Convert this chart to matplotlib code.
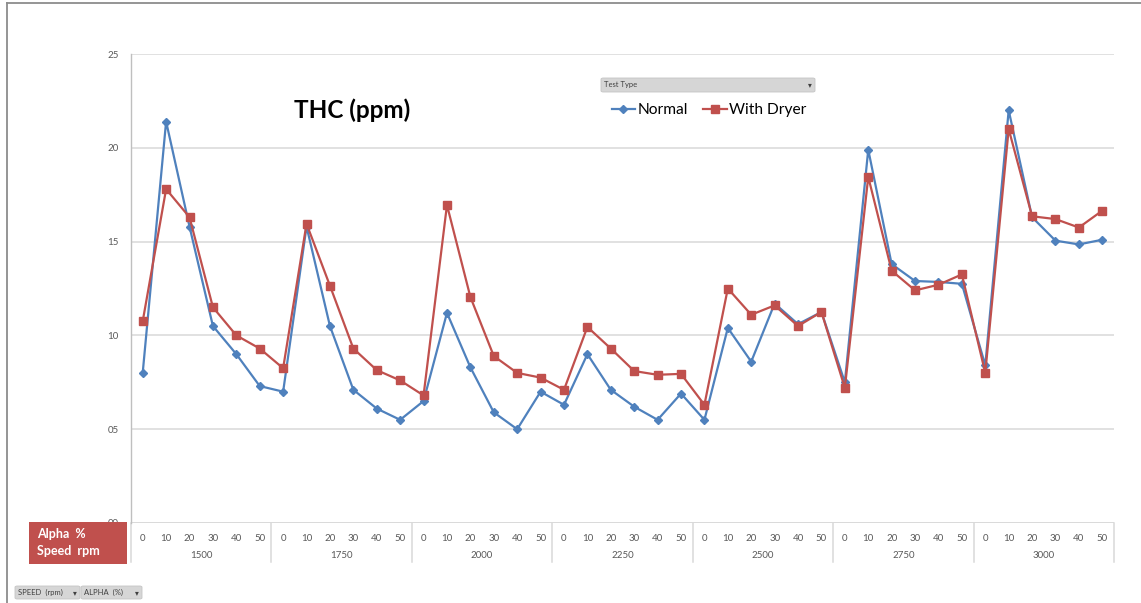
import matplotlib
matplotlib.use("Agg")
import matplotlib.pyplot as plt
from matplotlib.patches import Rectangle, FancyBboxPatch
from matplotlib.lines import Line2D
import matplotlib.transforms as mtransforms

# ---- data -------------------------------------------------------------
speeds = ["1500", "1750", "2000", "2250", "2500", "2750", "3000"]
alphas = ["0", "10", "20", "30", "40", "50"]

normal = [
    8.0, 21.4, 15.8, 10.5, 9.0, 7.3,      # 1500
    7.0, 15.8, 10.5, 7.1, 6.1, 5.5,       # 1750
    6.5, 11.2, 8.3, 5.9, 5.0, 7.0,        # 2000
    6.3, 9.0, 7.1, 6.2, 5.5, 6.9,         # 2250
    5.5, 10.4, 8.6, 11.7, 10.6, 11.25,    # 2500
    7.5, 19.9, 13.8, 12.9, 12.85, 12.75,  # 2750
    8.4, 22.0, 16.3, 15.05, 14.85, 15.1,  # 3000
]
with_dryer = [
    10.75, 17.8, 16.3, 11.5, 10.0, 9.3,
    8.25, 15.95, 12.65, 9.3, 8.15, 7.6,
    6.8, 16.95, 12.05, 8.9, 8.0, 7.75,
    7.1, 10.45, 9.3, 8.1, 7.9, 7.95,
    6.3, 12.5, 11.1, 11.6, 10.5, 11.25,
    7.2, 18.45, 13.45, 12.4, 12.7, 13.25,
    8.0, 21.0, 16.35, 16.2, 15.75, 16.65,
]
y_ticks = [0, 5, 10, 15, 20, 25]

BLUE = "#4f81bd"
RED = "#c0504d"
GRID = "#d9d9d9"
TXT = "#595959"
FONT = ["Lato", "DejaVu Sans"]

W, H = 1141, 603
fig = plt.figure(figsize=(W / 100, H / 100), dpi=100)
fig.patch.set_facecolor("white")


def fx(px):
    return px / W


def fy(py):
    return 1 - py / H


# plot area
ax_l, ax_r, ax_t, ax_b = 131, 1114, 54, 523
ax = fig.add_axes([fx(ax_l), fy(ax_b), fx(ax_r - ax_l), (ax_b - ax_t) / H])
n = len(speeds) * len(alphas)
x = list(range(n))

ax.plot(x, normal, color=BLUE, lw=1.6, marker="D", ms=4.3, mec=BLUE, mfc=BLUE,
        label="Normal", zorder=3)
ax.plot(x, with_dryer, color=RED, lw=1.6, marker="s", ms=6.3, mec=RED, mfc=RED,
        label="With Dryer", zorder=3)

ax.set_xlim(-0.5, n - 0.5)
ax.set_ylim(0, 25)
ax.set_yticks(y_ticks)
ax.set_yticklabels([f"{v:02d}" for v in y_ticks], fontsize=7, color=TXT,
                   family=FONT)
ax.tick_params(axis="y", length=0, pad=9)
ax.yaxis.grid(True, color=GRID, lw=1.1)
ax.set_axisbelow(True)
for s in ["top", "right", "bottom"]:
    ax.spines[s].set_visible(False)
ax.spines["left"].set_color("#bfbfbf")
ax.spines["left"].set_linewidth(1.0)

# two-level category axis
ax.set_xticks(x)
ax.set_xticklabels(alphas * len(speeds), fontsize=7, color=TXT, family=FONT)
ax.tick_params(axis="x", length=0, pad=8)
ax_h = ax_b - ax_t
trans = mtransforms.blended_transform_factory(ax.transData, ax.transAxes)
ax.axhline(0, color=GRID, lw=1.2, zorder=1)
sep_bottom = -(562 - ax_b) / ax_h
for g in range(len(speeds) + 1):
    xb = g * len(alphas) - 0.5
    ax.add_line(Line2D([xb, xb], [0, sep_bottom], transform=trans,
                       color=GRID, lw=1.1, clip_on=False))
for g, sp in enumerate(speeds):
    xc = g * len(alphas) + (len(alphas) - 1) / 2
    ax.text(xc, -(555 - ax_b) / ax_h, sp, transform=trans, ha="center",
            va="center", fontsize=7, color=TXT, family=FONT)

# title
fig.text(fx(352), fy(110), "THC (ppm)", ha="center", va="center",
         fontsize=17.5, fontweight="bold", color="black", family=FONT)

# legend
fig.legend(loc="center", bbox_to_anchor=(fx(709), fy(110)), ncol=2,
           frameon=False, prop={"family": FONT, "size": 11.2},
           handlelength=1.5, handletextpad=0.15, columnspacing=1.0)

# field buttons
def button(x0, y0, x1, y1, label, size):
    fig.patches.append(FancyBboxPatch(
        (fx(x0), fy(y1)), fx(x1 - x0), (y1 - y0) / H,
        boxstyle="round,pad=0,rounding_size=0.002", transform=fig.transFigure,
        facecolor="#d6d6d6", edgecolor="#c4c4c4", lw=0.6, zorder=6))
    fig.text(fx(x0 + 3), fy((y0 + y1) / 2), label, ha="left", va="center",
             fontsize=size, color="#404040", family=FONT, zorder=7)
    fig.text(fx(x1 - 5), fy((y0 + y1) / 2), "\u25be", ha="center",
             va="center", fontsize=size, color="#404040",
             family=["DejaVu Sans"], zorder=7)


button(601, 78, 815, 92, "Test Type", 5.5)
button(15, 586, 80, 599, "SPEED  (rpm)", 5.5)
button(81, 586, 142, 599, "ALPHA  (%)", 5.5)

# row-header box for the category axis
fig.patches.append(Rectangle((fx(29), fy(564)), fx(98), 42 / H,
                             transform=fig.transFigure, facecolor=RED,
                             edgecolor="none", zorder=6))
fig.text(fx(37), fy(534), "Alpha  %", ha="left", va="center", fontsize=9,
         fontweight="bold", color="white", family=FONT, zorder=7)
fig.text(fx(37), fy(551), "Speed  rpm", ha="left", va="center", fontsize=9,
         fontweight="bold", color="white", family=FONT, zorder=7)

# chart frame (top and left edges)
fig.lines.append(Line2D([fx(7), 1], [fy(3), fy(3)], transform=fig.transFigure,
                        color="#8c8c8c", lw=1.3))
fig.lines.append(Line2D([fx(7), fx(7)], [fy(3), 0], transform=fig.transFigure,
                        color="#8c8c8c", lw=1.3))

fig.savefig("out.png", dpi=100, facecolor="white")
